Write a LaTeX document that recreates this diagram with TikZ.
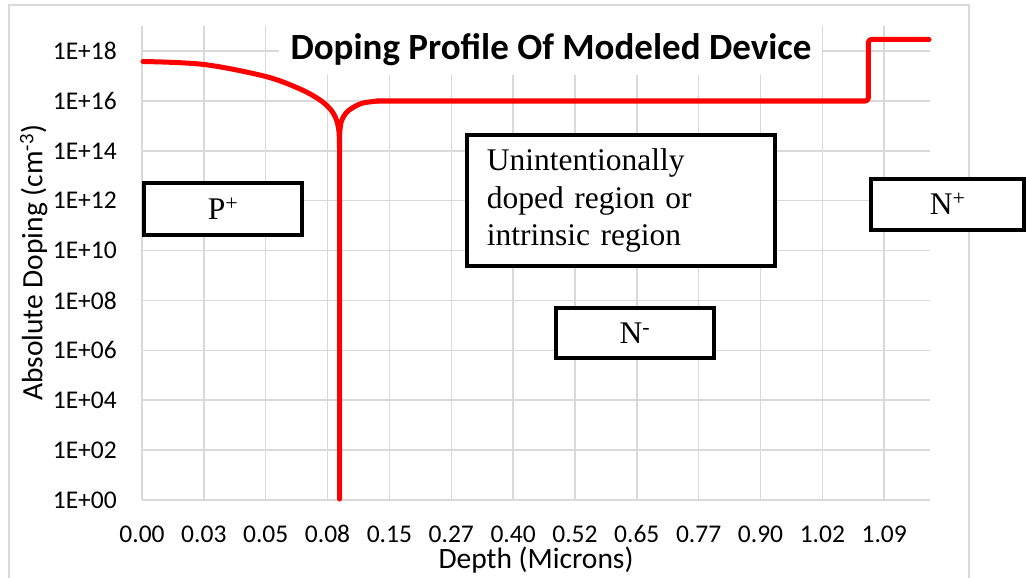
\documentclass[tikz,border=0pt]{standalone}
\usepackage{fontspec}
\setmainfont{Liberation Serif}
\newfontfamily\calib{Carlito}
\definecolor{gridgray}{HTML}{D9D9D9}
\begin{document}
\begin{tikzpicture}[x=1pt,y=-1pt,
  grid/.style={draw=gridgray,line width=1.5pt},
  curve/.style={draw=red,line width=5pt,line join=round,line cap=round},
  region/.style={draw=black,line width=4pt,fill=white,inner sep=0pt,
    font=\fontsize{31.5}{37.5}\selectfont},
  ytick/.style={anchor=east,font=\calib\fontsize{25.5}{30}\selectfont,inner sep=0pt},
  xtick/.style={anchor=center,font=\calib\fontsize{25.5}{30}\selectfont,inner sep=0pt},
  axtitle/.style={font=\calib\fontsize{29.5}{34}\selectfont,inner sep=0pt}]
\useasboundingbox (0,0) rectangle (1026,578);
\fill[white] (0,0) rectangle (1026,578);
% chart frame
\draw[grid] (9,578) -- (9,5) -- (969,5) -- (969,578);
% gridlines
\foreach \i in {0,...,12} \draw[grid] ({142+61.85*\i},26.5) -- ({142+61.85*\i},500);
\foreach \k in {0,2,...,18} \draw[grid] (142,{500-24.94*\k}) -- (930,{500-24.94*\k});
% title
\fill[white] (279,18) rectangle (822,75);
\node[font=\calib\bfseries\fontsize{37}{44}\selectfont,inner sep=0pt,anchor=base] (title) at (551,60) {Doping Profile Of Modeled Device};
% y tick labels
\foreach \k/\lab in {0/00,2/02,4/04,6/06,8/08,10/10,12/12,14/14,16/16,18/18}
  \node[ytick] (yt\k) at (117,{500-24.94*\k}) {1E+\lab};
% x tick labels
\foreach \lab [count=\i from 0] in {0.00,0.03,0.05,0.08,0.15,0.27,0.40,0.52,0.65,0.77,0.90,1.02,1.09}
  \node[xtick] (xt\i) at ({142+61.85*\i},534.2) {\lab};
% axis titles
\node[axtitle,anchor=base] (xtitle) at (536,568.5) {Depth (Microns)};
\node[axtitle,anchor=base,rotate=90] (ytitle) at (42.3,263) {Absolute Doping (cm\textsuperscript{-3})};
% doping profile
\draw[curve] plot[smooth,tension=0.55] coordinates {(143,61.5) (204,64.5) (265.7,76.5) (300,89) (320,100) (331,110) (336.5,120) (339,132) (339.5,148)} -- (339.5,499);
\draw[curve] plot[smooth,tension=0.55] coordinates {(339.5,148) (339.8,132) (341.5,121) (346,113) (353,107.5) (363,103) (378,101)};
\draw[curve,rounded corners=3pt] (377,101) -- (868.3,101) -- (868.3,39.5) -- (929,39.5);
% region boxes
\node[region,minimum width=158.6,minimum height=52.3] (pplus) at (223,209.2) {P\textsuperscript{+}};
\node[region,minimum width=307.7,minimum height=131,text width=267.7,align=left,inner xsep=20pt] (undoped) at (620.8,200.5) {Unintentionally\\doped region or\\intrinsic region};
\node[region,minimum width=157.7,minimum height=50.3] (nminus) at (634.8,332.8) {N\textsuperscript{-}};
\node[region,minimum width=152.7,minimum height=51] (nplus) at (947.7,204.2) {N\textsuperscript{+}};
\end{tikzpicture}
\end{document}
